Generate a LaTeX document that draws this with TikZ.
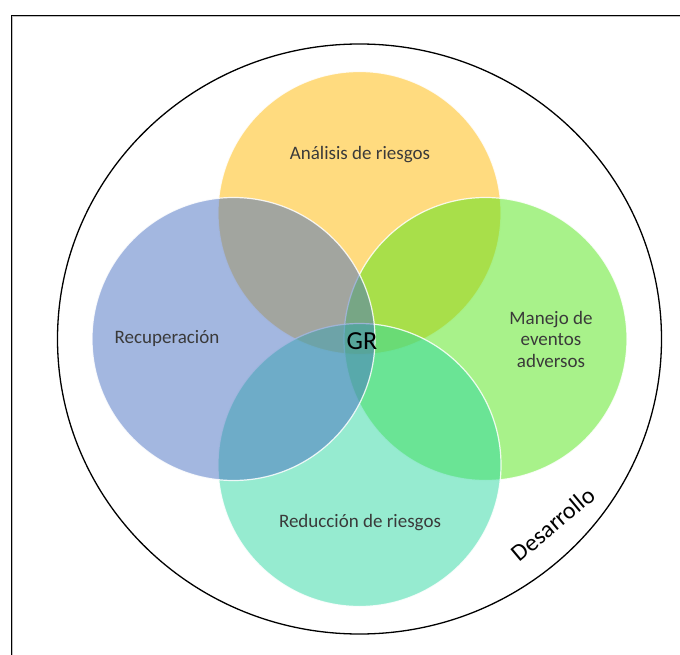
\documentclass[tikz,border=0pt]{standalone}
\usepackage{fontspec}
\setmainfont{Carlito}
\usepackage{tikz}
\usetikzlibrary{positioning}
\definecolor{riskyellow}{RGB}{255,183,0}
\definecolor{riskblue}{RGB}{71,111,193}
\definecolor{riskgreen}{RGB}{81,229,21}
\definecolor{riskteal}{RGB}{45,215,161}
\definecolor{labelgray}{RGB}{58,58,58}
\tikzset{venn/.style = {draw=white, line width=1.2pt,
                        fill opacity=0.5, draw opacity=0.85},
         lbl/.style = {text=labelgray, font=\fontsize{19}{21.5}\selectfont}}

\begin{document}
\begin{tikzpicture}[x=1pt, y=-1pt]
    \useasboundingbox (0,0) rectangle (680,655);
    \draw [gray!50, line width=1pt] (12.5,665) -- (12.5,16.5) -- (690,16.5);
    \draw [line width=0.9pt] (11,665) -- (11,15) -- (690,15);
    \draw [line width=1.3pt] (359.5,339) ellipse [x radius=302, y radius=295];
    \path [venn, fill=riskyellow] (359.5,213) circle [radius=141.5];
    \path [venn, fill=riskgreen] (485.5,339) circle [radius=141.5];
    \path [venn, fill=riskteal] (359.5,465) circle [radius=141.5];
    \path [venn, fill=riskblue] (233.5,339) circle [radius=141.5];
    \node [lbl] (analisis) at (360,155) {Análisis de riesgos};
    \node [lbl, align=center] (manejo) at (551,339) {Manejo de\\eventos\\adversos};
    \node [lbl] (reduccion) at (360,523) {Reducción de riesgos};
    \node [lbl] (recuperacion) at (167,338) {Recuperación};
    \node [font=\fontsize{26}{30}\selectfont] (gr) at (362,341) {GR};
    \node [font=\fontsize{24}{28}\selectfont, rotate=40] (desarrollo) at (553,524) {Desarrollo};
\end{tikzpicture}
\end{document}
